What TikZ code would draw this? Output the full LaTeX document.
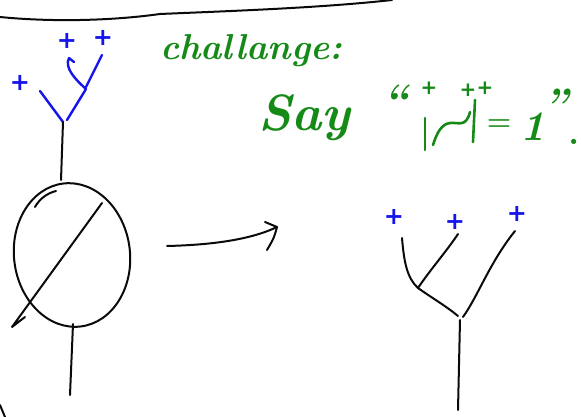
\documentclass[tikz,border=0pt]{standalone}
\usepackage{fontspec}
\usepackage{tikz}
\newfontfamily\signfont{DejaVu Sans}
\definecolor{inkcol}  {RGB}{ 10, 10, 10}
\definecolor{signcol} {RGB}{ 20, 20,235}
\definecolor{notecol} {RGB}{ 22,138, 22}

\begin{document}
\begin{tikzpicture}[
  % one unit = one pixel of the sketch, y runs downwards
  x=1pt,y=-1pt,
  line cap=round,line join=round,
  ink/.style={inkcol,line width=2pt},
  signink/.style={signcol,line width=2.4pt},
  sign/.style={text=signcol,font=\signfont\bfseries\fontsize{24}{24}\selectfont,inner sep=0pt},
  note/.style={text=notecol,inner sep=0pt},
  noteink/.style={notecol,line width=2.6pt},
  notesign/.style={text=notecol,font=\signfont\bfseries\fontsize{20}{20}\selectfont,inner sep=0pt}
]
\useasboundingbox (0,0) rectangle (581,417);

% ---- page edge -----------------------------------------------------------
\draw[ink] (0,17) .. controls (50,22) and (110,21) .. (160,14)
  .. controls (230,11) and (320,8) .. (392,0);

% ---- small tree, top left ------------------------------------------------
\coordinate (topstem) at (63,122);
\coordinate (topfork) at (86,89);
\draw[signink] (40,91) -- (topstem);
\draw[signink] (67,120) -- (topfork);
\draw[signink] (topfork) .. controls (76,80) and (64,68) .. (69,58) -- (74,62);
\draw[signink] (86,87) -- (102,55);
\draw[ink] (topstem) -- (61,180);
\node[sign] (plusa) at (20,83) {+};
\node[sign] (plusb) at (67,41) {+};
\node[sign] (plusc) at (103,38) {+};

% ---- blob with slash -----------------------------------------------------
\draw[ink,rotate around={7:(72,255)}] (72,255) ellipse[x radius=58pt,y radius=72pt];
\draw[ink] (35,207) .. controls (40,198) and (48,193) .. (56,191);
\draw[ink] (102,203) -- (12,327) -- (25,317);
\draw[ink] (73,324) -- (70,395);
\draw[ink] (0,405) -- (5,417);

% ---- arrow ---------------------------------------------------------------
\coordinate (arrowtip) at (277,227);
\draw[ink] (167,246) .. controls (210,245) and (250,240) .. (arrowtip);
\draw[ink] (265,222) -- (arrowtip) .. controls (274,238) .. (267,250);

% ---- big tree, right -----------------------------------------------------
\coordinate (rightfork) at (418,288);
\draw[ink] (402,238) .. controls (404,262) and (407,278) .. (rightfork)
  .. controls (432,298) and (446,306) .. (458,316);
\draw[ink] (rightfork) .. controls (430,270) and (446,252) .. (458,234);
\draw[ink] (463,317) .. controls (478,296) and (490,262) .. (515,231);
\draw[ink] (460,320) -- (458,410);
\node[sign] (plusd) at (394,217) {+};
\node[sign] (pluse) at (455,222) {+};
\node[sign] (plusf) at (517,214) {+};

% ---- challenge note ------------------------------------------------------
\node[note,anchor=base west,font=\bfseries\itshape\fontsize{36}{36}\selectfont]
  (challenge) at (160,60) {challange:};
\node[note,anchor=base west,font=\bfseries\itshape\fontsize{51}{51}\selectfont]
  (say) at (258,131) {Say};
\node[note,font=\bfseries\itshape\fontsize{44}{44}\selectfont] (openq) at (395,100) {``};
\draw[noteink] (425,118) -- (425,150);
\draw[noteink] (433,145) .. controls (437,132) and (442,124) .. (450,123)
  .. controls (458,122) and (466,128) .. (470,112);
\draw[noteink] (475,100) -- (473,142);
\node[notesign] (plusg) at (429,88) {+};
\node[notesign] (plush) at (468,90) {+};
\node[notesign] (plusi) at (485,88) {+};
\node[note,font=\bfseries\fontsize{28}{28}\selectfont] (equals) at (499,125) {=};
\node[note,anchor=base,font=\bfseries\itshape\fontsize{42}{42}\selectfont] (one) at (533,141) {1};
\node[note,font=\bfseries\itshape\fontsize{44}{44}\selectfont] (closeq) at (555,104) {''};
\node[note,anchor=base,font=\bfseries\fontsize{36}{36}\selectfont] (stop) at (574,145) {.};

\end{tikzpicture}
\end{document}
